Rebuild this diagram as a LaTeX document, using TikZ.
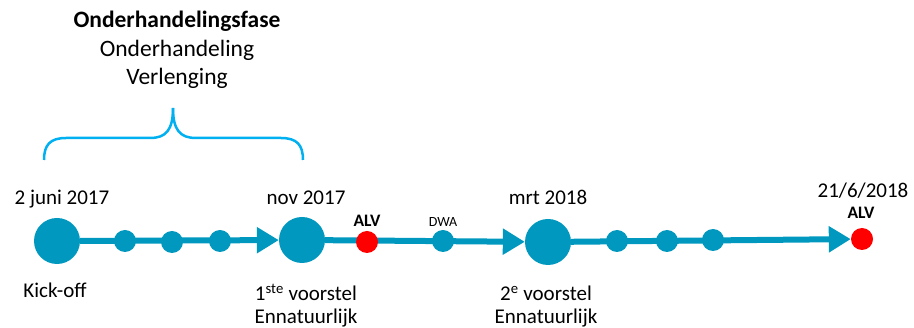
\documentclass[tikz,border=0pt]{standalone}
\usepackage{fontspec}
\setmainfont{Carlito}
\usetikzlibrary{arrows.meta}
\definecolor{tl}{RGB}{0,152,190}
\definecolor{br}{RGB}{0,176,240}
\definecolor{alv}{RGB}{255,0,0}
\tikzset{
  big/.style={circle,fill=tl,minimum size=46pt,inner sep=0pt},
  dot/.style={circle,fill=tl,minimum size=22pt,inner sep=0pt},
  reddot/.style={circle,fill=alv,minimum size=22pt,inner sep=0pt},
  conn/.style={draw=tl,line width=6pt,-{Triangle[length=22pt,width=25pt]}},
  head/.style={font=\fontsize{23.5}{28}\selectfont,inner sep=0pt,anchor=base},
  lbl/.style={font=\fontsize{21}{24}\selectfont,inner sep=0pt,anchor=base},
  small/.style={font=\fontsize{17.5}{20}\selectfont\bfseries,inner sep=0pt,anchor=base},
  tiny/.style={font=\fontsize{14}{17}\selectfont,inner sep=0pt,anchor=base}
}
\begin{document}
\begin{tikzpicture}[x=1pt,y=-1pt]
\useasboundingbox (0,0) rectangle (914,328);
% header
\node[head,font=\fontsize{23.5}{28}\selectfont\bfseries] (h1) at (177,28) {Onderhandelingsfase};
\node[head] (h2) at (177,57) {Onderhandeling};
\node[head] (h3) at (177,85) {Verlenging};
% brace
\draw[br,line width=2.5pt] (44,160) .. controls (44,145) and (50,138) .. (66,138)
  -- (150,138) .. controls (166,138) and (173,130) .. (173,108);
\draw[br,line width=2.5pt] (303,160) .. controls (303,145) and (297,138) .. (281,138)
  -- (196,138) .. controls (180,138) and (173,130) .. (173,108);
% main nodes
\node[big] (k) at (57,241) {};
\node[big] (n) at (302,240) {};
\node[big] (m) at (548,242) {};
\node[reddot] (a2) at (862,239) {};
% connectors
\draw[conn] (k) -- (n);
\draw[conn] (n) -- (m);
\draw[conn] (m) -- (a2);
% small dots
\node[dot] (d1) at (125,241) {};
\node[dot] (d2) at (172,242) {};
\node[dot] (d3) at (220,241) {};
\node[reddot] (a1) at (367,242) {};
\node[dot] (dwa) at (443,241) {};
\node[dot] (d4) at (617,241) {};
\node[dot] (d5) at (667,241) {};
\node[dot] (d6) at (713,240) {};
% labels
\node[lbl] (t1) at (62,205) {2 juni 2017};
\node[lbl] (t2) at (306,205) {nov 2017};
\node[lbl] (t3) at (548,205) {mrt 2018};
\node[lbl] (t4) at (863,198) {21/6/2018};
\node[small] (la1) at (367,227) {ALV};
\node[small] (la2) at (861,219) {ALV};
\node[tiny] (ld) at (443,227) {DWA};
\node[lbl] (b1) at (55,298) {Kick-off};
\node[lbl] (b2) at (306,301) {1\textsuperscript{ste} voorstel};
\node[lbl] (b3) at (306,324) {Ennatuurlijk};
\node[lbl] (b4) at (546,301) {2\textsuperscript{e} voorstel};
\node[lbl] (b5) at (546,324) {Ennatuurlijk};
\end{tikzpicture}
\end{document}
